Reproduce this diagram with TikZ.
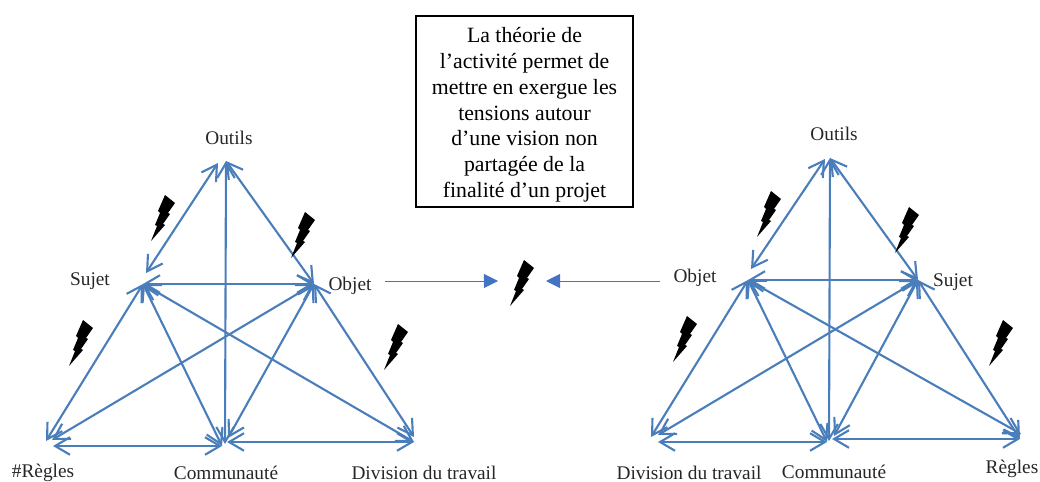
\documentclass[tikz,border=0pt]{standalone}
\usepackage{fontspec}
\setmainfont{Liberation Serif}
\usetikzlibrary{arrows.meta}
\definecolor{linkblue}{HTML}{4A7EBB}
\definecolor{fluxblue}{HTML}{4472C4}
\tikzstyle{label} = [font=\fontsize{11}{13}\selectfont, text=black!85, inner sep=0pt]
\tikzstyle{note} = [rectangle, draw=black, line width=1.1pt, minimum width=124pt, minimum height=109pt, align=center, inner sep=0pt, font=\fontsize{12.4}{14.7}\selectfont]
\tikzstyle{arrow} = [draw=linkblue, line width=1.2pt, {Straight Barb[length=8.5pt,width=10pt]}-{Straight Barb[length=8.5pt,width=10pt]}]
\tikzstyle{flux} = [draw=fluxblue, line width=0.55pt, -{Triangle[length=8pt,width=8pt]}]
\tikzset{
  bolt/.pic={
    \fill[black] (2,-23) -- (12,-15) -- (5,-5) -- (7,-4) -- (0,6) -- (2,7) -- (-12,23) -- (-6,8) -- (-8,7) -- (-3,-5) -- (-5,-7) -- cycle;
  }
}
\begin{document}
\begin{tikzpicture}[x=0.02cm,y=-0.02cm]
    \useasboundingbox (0,0) rectangle (1040,482);

    % Note
    \node (note) [note] at (524.5,111.5) {\rule{0pt}{12.5pt}La théorie de\\l’activité permet de\\mettre en exergue les\\tensions autour\\d’une vision non\\partagée de la\\finalité d’un projet};

    % Labels, left
    \node (outilsA) [label] at (229,138) {Outils};
    \node (sujetA) [label] at (90,281) {Sujet};
    \node (objetA) [label] at (350,286) {Objet};
    \node (reglesA) [label] at (43,473) {\#Règles};
    \node (commuA) [label] at (226,473) {Communauté};
    \node (diviA) [label] at (424,473) {Division du travail};

    % Labels, right
    \node (outilsB) [label] at (834,134) {Outils};
    \node (objetB) [label] at (695,278) {Objet};
    \node (sujetB) [label] at (953,282) {Sujet};
    \node (diviB) [label] at (689,473) {Division du travail};
    \node (commuB) [label] at (834,472) {Communauté};
    \node (reglesB) [label] at (1012,469) {Règles};

    % Ends, left
    \coordinate (a1) at (226,161);
    \coordinate (a2) at (218,163);
    \coordinate (a3) at (146,273);
    \coordinate (a4) at (143,284);
    \coordinate (a5) at (314,284);
    \coordinate (a6) at (46,441);
    \coordinate (a7) at (52,440);
    \coordinate (a8) at (53,446);
    \coordinate (a9) at (222,446);
    \coordinate (a10) at (225,444);
    \coordinate (a11) at (228,438);
    \coordinate (a12) at (227,442);
    \coordinate (a13) at (414,442);
    \coordinate (a14) at (414,437);

    % Ends, right
    \coordinate (b1) at (830,158);
    \coordinate (b2) at (825,159);
    \coordinate (b3) at (751,269);
    \coordinate (b4) at (748,280);
    \coordinate (b5) at (918,280);
    \coordinate (b6) at (651,437);
    \coordinate (b7) at (658,435);
    \coordinate (b8) at (658,442);
    \coordinate (b9) at (827,442);
    \coordinate (b10) at (829,441);
    \coordinate (b11) at (834,436);
    \coordinate (b12) at (832,439);
    \coordinate (b13) at (1020,439);
    \coordinate (b14) at (1021,434);

    % Arrows, left
    \draw [arrow] (a2) -- (a3);
    \draw [arrow] (a1) -- (a5);
    \draw [arrow] (a1) -- (a10);
    \draw [arrow] (a4) -- (a5);
    \draw [arrow] (a4) -- (a6);
    \draw [arrow] (a5) -- (a7);
    \draw [arrow] (a4) -- (a9);
    \draw [arrow] (a5) -- (a11);
    \draw [arrow] (a4) -- (a13);
    \draw [arrow] (a5) -- (a14);
    \draw [arrow] (a8) -- (a9);
    \draw [arrow] (a12) -- (a13);

    % Arrows, right
    \draw [arrow] (b2) -- (b3);
    \draw [arrow] (b1) -- (b5);
    \draw [arrow] (b1) -- (b10);
    \draw [arrow] (b4) -- (b5);
    \draw [arrow] (b4) -- (b6);
    \draw [arrow] (b5) -- (b7);
    \draw [arrow] (b4) -- (b9);
    \draw [arrow] (b5) -- (b11);
    \draw [arrow] (b4) -- (b14);
    \draw [arrow] (b5) -- (b13);
    \draw [arrow] (b8) -- (b9);
    \draw [arrow] (b12) -- (b13);

    % Tensions
    \coordinate (fluxA) at (385,281);
    \coordinate (clashA) at (498,281);
    \coordinate (fluxB) at (660,281);
    \coordinate (clashB) at (546,281);
    \draw [flux] (fluxA) -- (clashA);
    \draw [flux] (fluxB) -- (clashB);

    % Bolts
    \pic at (163,218) {bolt};
    \pic at (303,235) {bolt};
    \pic at (81,343) {bolt};
    \pic at (396,347) {bolt};
    \pic at (522,283) {bolt};
    \pic at (769,214) {bolt};
    \pic at (907,230) {bolt};
    \pic at (685,339) {bolt};
    \pic at (1001,343) {bolt};
\end{tikzpicture}
\end{document}
